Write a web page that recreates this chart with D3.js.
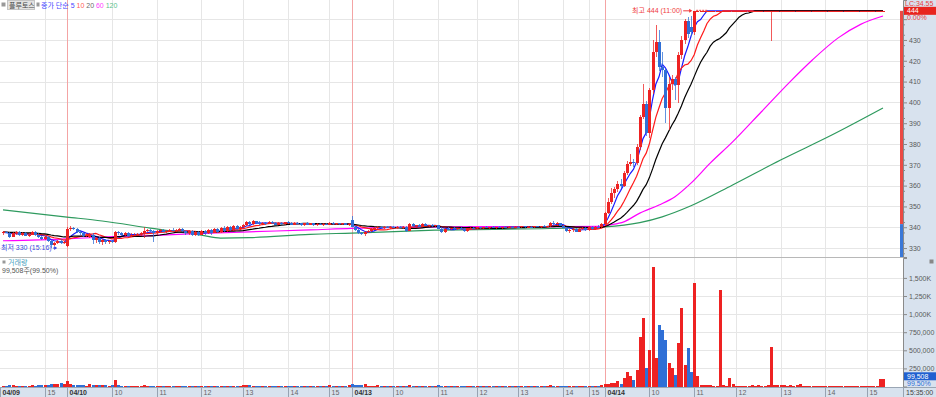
<!DOCTYPE html>
<html>
<head>
<meta charset="utf-8">
<script src="https://cdn.jsdelivr.net/npm/d3@7"></script>
<style>
body { margin: 0; background: #fff; }
svg { display: block; font-family: "Liberation Sans", "Noto Sans CJK KR", sans-serif; }
</style>
</head>
<body>
<script>
// candles per day: [open, high, low, close, volume(천주)]
var d09 = [
  [337,338,336.5,337.5,12],[337.5,338,337,337,8],[337,337.5,335,335.5,15],[335.5,337.5,335.5,337,14],
  [337,338,336.5,337.5,10],[337.5,338,336,336.5,9],[336.5,337.5,336,337,11],[337,337.5,336,336,8],
  [336,337,335.5,336.5,10],[336.5,338,336.5,337.5,18],[337.5,338,336,336.5,12],[336.5,337,335,335.5,15],
  [335.5,336,334,334.5,20],[334.5,336,334,335.5,22],[335.5,336,333,333.5,26],[333.5,334,330,331.5,35],
  [331.5,333,331,332.5,28],[332.5,334,332,333.5,40],[333.5,334.5,332,332.5,55],[332.5,333.5,332,333,30]
];
var d10 = [
  [331,340,330.5,339,75],[339,340.5,338,339.5,30],[339.5,340,338.5,339,20],[339,339.5,337,337.5,18],
  [337.5,338.5,336.5,337,15],[337,337.5,335.5,336,14],[336,337,335.5,336.5,12],[335.5,337,335,336.5,35],
  [336.5,337,332,334,22],[334,335.5,332.5,335,20],[335,335.5,332,333,24],[333,334.5,331.5,334,25],
  [334,334.5,332,333,18],[333,334,332,333.5,12],[333.5,334,332.5,333,14],[333,338,332.5,337.5,90],
  [337.5,338,336.5,337,15],[337,337.5,336,336.5,10],[336.5,337.5,336,337,9],[337,337.5,335.5,336,12],
  [336,337,335.5,336.5,8],[336.5,337,336,336.5,7],[336.5,337,336,336.8,8],[336.8,337.5,336,337,9],
  [337,340,335,338,22],[338,339,337.5,338.5,10],[338.5,339,337.5,338,9],[338,338.5,333,337,12],
  [337,338.5,336.5,338,8],[338,339,337.5,338.5,9],[338.5,339,337.5,337.8,7],[337.8,338.5,337,338.2,8],
  [338.2,339,337.5,338.8,9],[338.8,339.5,338,338.3,7],[338.3,339,337.5,338.5,8],[338.5,339.5,338,339,10],
  [339,339.5,337.5,338,9],[338,338.5,336.5,337,10],[337,338.5,336.5,338,8],[338,338.5,336,336.5,9],
  [336.5,338,336,337.5,7],[337.5,338,336,336.5,8],[336.5,338.5,336.5,338.3,9],[338.3,338.8,336.5,337,8],
  [337,339,336.8,338.5,10],[338.5,339,336.5,337,9],[337,339.5,337,339,11],[339,339.5,337,337.5,9],
  [337.5,340,337,339.5,12],[339.5,340.5,337.5,338,10],[338,340.5,337.8,340,11],[340,340.5,338,338.5,9],
  [338.5,341,338.3,340.5,12],[340.5,341,338.5,339,10],[339,340.5,338.5,340,9],[340,341.5,339.5,341,20],
  [341,343,340.5,342.5,22],[342.5,343,341,341.5,14],[341.5,343.5,341,342.8,12],[342.8,343,341.5,342,10],
  [342,342.8,341,341.5,9],[341.5,342.5,341,342.2,8],[342.2,342.5,341.2,341.8,9],[341.8,342.8,341.5,342.5,10],
  [342.5,343,341.5,342,9],[342,342.5,341,341.3,8],[341.3,342.3,341,342,7],[342,342.5,341.3,341.5,8],
  [341.5,342.5,341,342.3,9],[342.3,342.8,341.5,341.8,8],[341.8,342.3,341,341.2,7],[341.2,342.3,341,342,8],
  [342,342.5,341.5,341.8,7],[341.8,342.2,340.8,341,8],[341,342,340.8,341.8,9],[341.8,342.3,341,341.3,7],
  [341.3,342,341,341.8,8],[341.8,342,340.8,341,7],[341,341.8,340.5,341.5,8],[341.5,342,341,341.2,7],
  [341.2,341.8,340.8,341.6,8],[341.6,342,341,341.3,7],[341.3,342.5,341,342.2,20],[342.2,342.5,341.3,341.5,8],
  [341.5,342,341,341.8,7],[341.8,342.2,341.2,341.4,8],[341.4,342,341,341.8,7],[341.8,342,341,341.2,9],
  [341.2,341.8,340.8,341.5,15]
];
var d13 = [
  [343.5,345.5,340,340.2,35],[340.2,340.5,338,338.5,25],[338.5,339,336.8,337.2,20],[337.2,337.8,336.2,336.7,15],
  [336.7,338,336,337.8,28],[337.8,338.5,337,338.2,10],[338.2,339.5,337.8,339.2,12],[339.2,340,338.8,339.5,9],
  [339.5,340.5,339,340.2,20],[340.2,340.8,339.5,339.8,8],[339.8,340.5,339.2,340.3,7],[340.3,340.8,339.5,339.8,8],
  [339.8,340.5,339.3,340.2,7],[340.2,340.6,339.5,339.7,8],[339.7,340.4,339.2,340,7],[340,340.6,339.5,339.9,8],
  [339.9,340.5,339.3,340.3,7],[340.3,340.5,337.8,338.2,10],[338.2,341.8,338,341.5,15],[341.5,342,340.2,340.5,9],
  [340.5,341.2,339.5,341,8],[341,341.5,340,340.3,7],[340.3,341.8,340,341.5,9],[341.5,341.8,340.5,340.8,7],
  [340.8,341.3,340,341,8],[341,341.5,340.2,340.5,7],[340.5,341.2,340,341,8],[341,341.3,339,339.3,18],
  [339.3,340,337.2,337.5,12],[337.5,339.5,337,339.2,10],[339.2,340,338.5,339,7],[339,339.8,338.5,339.5,8],
  [339.5,340,338.8,339.1,7],[339.1,339.8,338.5,339.6,8],[339.6,340.2,339,339.3,7],[339.3,339.8,337.5,338,9],
  [338,339.8,337.8,339.5,8],[339.5,340.2,339,339.8,7],[339.8,340.3,339.2,339.5,8],[339.5,340,339,339.9,7],
  [339.9,340.3,339.3,339.6,6],[339.6,340.2,339.2,340,7],[340,340.5,339.5,339.8,6],[339.8,340.3,339.3,340.1,7],
  [340.1,340.5,339.5,339.7,6],[339.7,340.2,339.3,340,7],[340,340.4,339.4,339.8,6],[339.8,340.3,339.3,340.2,7],
  [340.2,340.6,339.6,339.9,6],[339.9,340.4,339.5,340.3,7],[340.3,340.7,339.8,340,6],[340,340.5,339.5,340.2,7],
  [340.2,340.6,339.7,339.9,6],[339.9,340.5,339.5,340.4,7],[340.4,340.8,339.8,340.1,6],[340.1,340.6,339.6,340.3,7],
  [340.3,340.7,339.8,340,6],[340,340.5,339.6,340.4,7],[340.4,340.8,339.9,340.1,6],[340.1,340.6,339.7,340.4,7],
  [340.4,340.9,340,340.2,6],[340.2,340.7,339.8,340.5,7],[340.5,342.5,340.2,342,15],[342,342.8,341,341.5,10],
  [341.5,342.3,340.8,342,9],[342,342.2,340.5,340.8,8],[340.8,341.2,339.5,339.8,9],[339.8,340.2,337.5,338,10],
  [338,339,337,338.5,8],[338.5,339.5,337.8,339,7],[339,339.5,337.5,337.8,8],[337.8,339.5,337.5,339.2,7],
  [339.2,340,338.5,339.5,8],[339.5,340,338,338.5,9],[338.5,340.5,338.2,340.2,12],[340.2,340.8,338.5,339,8],
  [339,340.5,338.8,340.3,9],[340.3,341,339.8,340,10],[340,341.8,339.5,341.5,22]
];
var d14 = [
  [341.5,347.5,340.5,347,35],[347,354,346.5,352,40],[352,358.8,351,356.5,42],[356.5,359.5,354,358.5,50],
  [358.5,362,357,361,70],[361,363,359,360,30],[360,367,359.5,366,115],[366,372,365,370.5,200],
  [370.5,375,369.5,371.5,150],[371.5,373,369,371,85],[371,380,370,378.5,230],[378.5,394,377,393,680],
  [393,409,392,399,950],[399,400.5,384,385.5,250],[385.5,407,383,406,500],[406,430,404,424,1650],
  [424,437,422,429,400],[429,434.8,415,417,850],[417,424,412,415.5,780],[415.5,416,390,397.5,640],
  [397.5,412,386.5,409,330],[409,413,406,411,250],[411,412,401,408.5,160],[408.5,424,399.5,423,600],
  [423,432,421,430,1080],[430,440,428,439,300],[439,441,431,433,530],[436,441.5,432,434,200],
  [434,444,432.5,444,1430],
  [444,444,444,444,150],[444,444,444,444,25],[444,444,444,444,20],[444,444,444,444,18],[444,444,444,444,22],
  [444,444,444,444,10],[444,444,444,444,8],[444,444,444,444,1330],[444,444,444,444,15],[444,444,444,444,12],
  [444,444,444,444,120],[444,444,444,444,40],[444,444,444,444,10],[444,444,444,444,8],[444,444,444,444,6],
  [444,444,444,444,12],[444,444,444,444,10],[444,444,444,444,15],[444,444,444,444,8],[444,444,444,444,18],
  [444,444,444,444,12],[444,444,444,444,10],[444,444,444,444,20],[444,444,429.5,444,545],[444,444,444,444,15],
  [444,444,444,444,20],[444,444,444,444,25],[444,444,444,444,18],[444,444,444,444,12],[444,444,444,444,22],
  [444,444,444,444,10],[444,444,444,444,15],[444,444,444,444,40],[444,444,444,444,12],[444,444,444,444,8],
  [444,444,444,444,6],[444,444,444,444,10],[444,444,444,444,5],[444,444,444,444,8],[444,444,444,444,6],
  [444,444,444,444,5],[444,444,444,444,7],[444,444,444,444,6],[444,444,444,444,5],[444,444,444,444,8],
  [444,444,444,444,6],[444,444,444,444,5],[444,444,444,444,7],[444,444,444,444,6],[444,444,444,444,5],
  [444,444,444,444,8],[444,444,444,444,12],[444,444,444,444,10],[444,444,444,444,6],[444,444,444,444,8],
  [444,444,444,444,5],[444,444,444,444,6],[444,444,444,444,110],[444,444,444,444,99.508]
];

// closes before the first visible candle (for 5/10/20 averages)
var prevCloses = [337.8,337.2,338,337.5,337,337.6,338.2,337.9,337.4,337.8,338.1,337.6,337.3,337.9,338.3,337.7,337.2,337.6,337.9];

// 60 / 120 averages at candle indices
var ma60Idx = [0,20,31,46,62,77,96,109,140,187,189,194,199,205,210,215,221,228,237,246,253,261,268,275];
var ma60Val = [333.5,334.4,335.3,336,337,337.8,338.7,339.5,340.2,340.4,341,342.6,346.8,350.7,354.7,361.2,370.8,381,395.5,410,420.5,431,437.5,441.5];
var ma120Idx = [0,20,31,46,62,68,77,96,109,135,171,188,199,206,215,228,243,259,275];
var ma120Val = [348.3,344.9,343,339.6,336.2,334.8,335,336.6,337.2,338.6,339.4,340.2,342.2,345,350.3,360.3,372.3,384.3,397.3];

var tickIdx  = [0,13,20,34,48,62,75,89,102,109,122,136,148,161,175,183,188,202,216,229,243,257,270];
var tickText = ["04/09","15","04/10","10","11","12","13","14","15","04/13","10","11","12","13","14","15","04/14","10","11","12","13","14","15"];

var priceTicks = [330,340,350,360,370,380,390,400,410,420,430,440];
var volTicks = [250,500,750,1000,1250,1500];
var prevClose = 341.5;

var maNames  = ["5","10","20","60","120"];
var maColors = ["#1a1aff","#ff1a1a","#000000","#ff00ff","#2e9a5e"];
var maLegendColors = ["#4646ff","#ff5a5a","#6a6a6a","#ff40ff","#5cbf8c"];

var width = 936, height = 397, right = 903;
var up = "#ee2222", down = "#2f6fd6";

var svg = d3.select("body").append("svg")
    .attr("width", width)
    .attr("height", height);

var candles = d09.concat(d10, d13, d14);
var n = candles.length;

var x  = d3.scaleLinear().domain([0, n - 1]).range([3, 883]);
var y  = d3.scaleLinear().domain([325.7, 449.2]).range([257, 0]);
var yv = d3.scaleLinear().domain([0, 1775]).range([386.5, 258]);

// axis backgrounds
svg.append("rect").attr("x", right).attr("y", 0).attr("width", width - right).attr("height", height).attr("fill", "#d8e2ee");
svg.append("rect").attr("x", 0).attr("y", 387).attr("width", width).attr("height", 10).attr("fill", "#d8e2ee");

// grid
var grid = svg.append("g").attr("stroke", "#e6e6e6").attr("stroke-width", 1);
grid.selectAll(".hp").data(priceTicks).enter().append("line")
  .attr("x1", 0).attr("x2", right)
  .attr("y1", function(d) { return Math.round(y(d)) + 0.5; })
  .attr("y2", function(d) { return Math.round(y(d)) + 0.5; });
grid.selectAll(".hv").data(volTicks).enter().append("line")
  .attr("x1", 0).attr("x2", right)
  .attr("y1", function(d) { return Math.round(yv(d)) + 0.5; })
  .attr("y2", function(d) { return Math.round(yv(d)) + 0.5; });
var hourIdx = tickIdx.filter(function(d, i) { return tickText[i].indexOf("/") < 0; });
var dayIdx  = tickIdx.filter(function(d, i) { return tickText[i].indexOf("/") >= 0 && d > 0; });
grid.selectAll(".vg").data(hourIdx).enter().append("line")
  .attr("x1", function(d) { return Math.round(x(d)) + 0.5; })
  .attr("x2", function(d) { return Math.round(x(d)) + 0.5; })
  .attr("y1", 0).attr("y2", 387);
svg.selectAll(".day").data(dayIdx).enter().append("line")
  .attr("x1", function(d) { return Math.round(x(d)) + 0.5; })
  .attr("x2", function(d) { return Math.round(x(d)) + 0.5; })
  .attr("y1", 0).attr("y2", 387)
  .attr("stroke", "#f4a4a4");

// pane separators
svg.append("line").attr("x1", 0).attr("x2", right).attr("y1", 257.5).attr("y2", 257.5).attr("stroke", "#b8b8b8");
svg.append("line").attr("x1", 0).attr("x2", width).attr("y1", 387.5).attr("y2", 387.5).attr("stroke", "#9aa6b4");

// moving averages
var allCloses = prevCloses.concat(candles.map(function(c) { return c[3]; }));
function sma(p) {
  return candles.map(function(c, i) {
    var j = i + prevCloses.length;
    return d3.mean(allCloses.slice(j - p + 1, j + 1));
  });
}
var idxLine = d3.line().x(function(d, i) { return x(i); }).y(function(d) { return y(d); });
var sampLine = d3.line().x(function(d) { return x(d[0]); }).y(function(d) { return y(d[1]); }).curve(d3.curveMonotoneX);

svg.append("path").attr("d", sampLine(d3.zip(ma120Idx, ma120Val)))
  .attr("fill", "none").attr("stroke", maColors[4]).attr("stroke-width", 1.2);
svg.append("path").attr("d", sampLine(d3.zip(ma60Idx, ma60Val)))
  .attr("fill", "none").attr("stroke", maColors[3]).attr("stroke-width", 1.2);
[5, 10, 20].forEach(function(p, k) {
  svg.append("path").attr("d", idxLine(sma(p)))
    .attr("fill", "none").attr("stroke", maColors[k]).attr("stroke-width", 1.2);
});

// candles
function col(c, i) {
  if (c[3] > c[0]) return up;
  if (c[3] < c[0]) return down;
  return (i === 0 || c[3] >= candles[i - 1][3]) ? up : down;
}
var cg = svg.append("g").attr("shape-rendering", "crispEdges");
cg.selectAll(".wick").data(candles).enter().append("line")
  .attr("x1", function(d, i) { return Math.round(x(i)) + 0.5; })
  .attr("x2", function(d, i) { return Math.round(x(i)) + 0.5; })
  .attr("y1", function(d) { return y(d[1]); })
  .attr("y2", function(d) { return y(d[2]); })
  .attr("stroke", function(d, i) { return col(d, i); })
  .attr("stroke-opacity", 0.75);
cg.selectAll(".body").data(candles).enter().append("rect")
  .attr("x", function(d, i) { return Math.round(x(i)) - 1; })
  .attr("width", 3)
  .attr("y", function(d) { return Math.min(y(d[0]), y(d[3])); })
  .attr("height", function(d) { return Math.max(1, Math.abs(y(d[0]) - y(d[3]))); })
  .attr("fill", function(d, i) { return col(d, i); });

// volume
cg.selectAll(".vol").data(candles).enter().append("rect")
  .attr("x", function(d, i) { return Math.round(x(i)) - 1; })
  .attr("width", 3)
  .attr("y", function(d) { return Math.min(yv(d[4]), yv(0) - 1); })
  .attr("height", function(d) { return Math.max(1, yv(0) - yv(d[4])); })
  .attr("fill", function(d, i) { return col(d, i); });

// right axes
svg.append("g").attr("transform", "translate(" + right + ",0)")
  .call(d3.axisRight(y).tickValues(priceTicks).tickSize(4).tickPadding(2)
    .tickFormat(function(d) { return d === 440 ? "" : d3.format("d")(d); }));
svg.append("g").attr("transform", "translate(" + right + ",0)")
  .call(d3.axisRight(y).tickValues(d3.range(327.5, 447, 5).filter(function(v) { return v % 10 !== 0; })).tickSize(2).tickFormat(""))
  .select(".domain").remove();
svg.append("g").attr("transform", "translate(" + right + ",0)")
  .call(d3.axisRight(yv).tickValues(volTicks).tickSize(4).tickPadding(2)
    .tickFormat(function(d) { return d >= 1000 ? d3.format(",")(d) + "K" : d3.format(",")(d * 1000); }));
svg.selectAll(".domain").attr("stroke", "#8a8a8a");
svg.selectAll(".tick line").attr("stroke", "#8a8a8a");
svg.selectAll(".tick text").attr("fill", "#5a5a5a").attr("font-size", "7px").attr("font-family", "Liberation Sans");

// price change bar next to the axis
svg.append("rect").attr("x", 900).attr("y", y(444)).attr("width", 3).attr("height", y(prevClose) - y(444)).attr("fill", "#ec4a44");
svg.append("rect").attr("x", 900).attr("y", y(prevClose)).attr("width", 3).attr("height", 257 - y(prevClose)).attr("fill", "#3a78d8");

// time axis
var tg = svg.append("g");
tickIdx.forEach(function(t, i) {
  var xx = t === 0 ? 0.5 : Math.round(x(t)) + 0.5;
  var isDay = tickText[i].indexOf("/") >= 0;
  tg.append("line").attr("x1", xx).attr("x2", xx).attr("y1", 388).attr("y2", 397).attr("stroke", "#97a3b2");
  tg.append("text").attr("x", xx + 2).attr("y", 395)
    .attr("font-size", "7px")
    .attr("font-weight", isDay ? "bold" : "normal")
    .attr("fill", isDay ? "#333" : "#666")
    .text(tickText[i]);
});
tg.append("line").attr("x1", right + 0.5).attr("x2", right + 0.5).attr("y1", 388).attr("y2", 397).attr("stroke", "#97a3b2");
tg.append("text").attr("x", 906).attr("y", 395).attr("font-size", "7px").attr("fill", "#444").text("15:35:00");

// right side labels
svg.append("text").attr("x", 905).attr("y", 6).attr("font-size", "7px").attr("fill", "#e84040").text("LC:34.55");
svg.append("rect").attr("x", 904).attr("y", y(444) - 4).attr("width", 32).attr("height", 8).attr("fill", "#e8241e");
svg.append("text").attr("x", 907).attr("y", y(444) + 2.5).attr("font-size", "7px").attr("fill", "#fff").text("444");
svg.append("text").attr("x", 907).attr("y", y(444) + 9).attr("font-size", "7px").attr("fill", "#e84040").text("0.00%");
var lastVol = candles[n - 1][4];
svg.append("rect").attr("x", 904).attr("y", yv(lastVol) - 7).attr("width", 32).attr("height", 8).attr("fill", "#2060d0");
svg.append("text").attr("x", 907).attr("y", yv(lastVol) - 0.5).attr("font-size", "7px").attr("fill", "#fff").text(d3.format(",")(Math.round(lastVol * 1000)));
svg.append("text").attr("x", 907).attr("y", yv(lastVol) + 7).attr("font-size", "7px").attr("fill", "#2f6fd6").text("99.50%");
svg.append("rect").attr("x", 929.5).attr("y", 259.5).attr("width", 4).attr("height", 4).attr("fill", "#888");

// legend top-left
svg.append("rect").attr("x", 1.5).attr("y", 2.5).attr("width", 4).attr("height", 4).attr("fill", "#999");
svg.append("rect").attr("x", 7.5).attr("y", 0.5).attr("width", 27).attr("height", 9).attr("fill", "#e2e2e2").attr("stroke", "#c4c4c4");
svg.append("text").attr("x", 9).attr("y", 7.5).attr("font-size", "7px").attr("fill", "#444").text("플루토스");
svg.append("rect").attr("x", 36.5).attr("y", 2.5).attr("width", 3).attr("height", 4).attr("fill", "#999");
var lg = svg.append("text").attr("x", 41).attr("y", 7.5).attr("font-size", "7px");
lg.append("tspan").attr("fill", maLegendColors[0]).text("종가 단순 ");
maNames.forEach(function(m, k) {
  lg.append("tspan").attr("fill", maLegendColors[k]).text(m + (k < maNames.length - 1 ? " " : ""));
});

// high / low markers
var hiIdx = d3.maxIndex(candles, function(d) { return d[1]; });
var loIdx = d3.minIndex(candles, function(d) { return d[2]; });
svg.append("text").attr("x", x(hiIdx) - 12).attr("y", y(444) + 2.5).attr("text-anchor", "end")
  .attr("font-size", "7px").attr("fill", "#f03c3c").text("최고 444 (11:00)");
svg.append("line").attr("x1", x(hiIdx) - 11).attr("x2", x(hiIdx) - 3).attr("y1", y(444)).attr("y2", y(444)).attr("stroke", "#f03c3c");
svg.append("path").attr("d", "M" + (x(hiIdx) - 2) + "," + y(444) + "l-3,-2v4z").attr("fill", "#f03c3c");
svg.append("line").attr("x1", x(hiIdx) + 2).attr("x2", x(hiIdx) + 14).attr("y1", y(444) - 0.5).attr("y2", y(444) - 0.5)
  .attr("stroke", "#f03c3c").attr("stroke-dasharray", "2,1");
var loText = svg.append("text").attr("x", 1).attr("y", y(330) + 2)
  .attr("font-size", "7px").attr("fill", "#3a4ae0").text("최저 330 (15:16)");
var loEnd = 1 + loText.node().getComputedTextLength() + 1.5;
svg.append("line").attr("x1", loEnd).attr("x2", Math.max(loEnd + 3, x(loIdx) - 2)).attr("y1", y(330)).attr("y2", y(330)).attr("stroke", "#3a4ae0");
svg.append("path").attr("d", "M" + Math.max(loEnd + 4, x(loIdx) - 1) + "," + y(330) + "l-3,-2v4z").attr("fill", "#3a4ae0");

// volume pane labels
svg.append("rect").attr("x", 2.5).attr("y", 260.5).attr("width", 3).attr("height", 3).attr("fill", "#999");
svg.append("text").attr("x", 8).attr("y", 265).attr("font-size", "7px").attr("fill", "#4aa0c0").text("거래량");
svg.append("text").attr("x", 2).attr("y", 273).attr("font-size", "7px").attr("fill", "#555").text("99,508주(99.50%)");
</script>
</body>
</html>
